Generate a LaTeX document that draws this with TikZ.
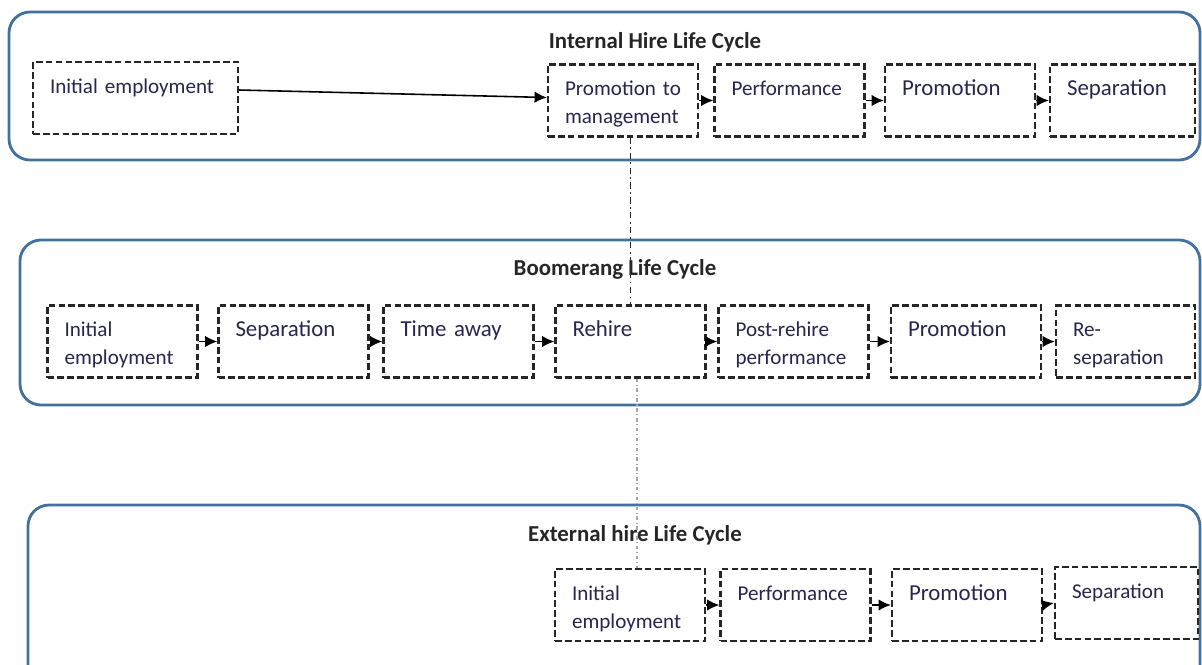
\documentclass[tikz,border=0pt]{standalone}
\usepackage{fontspec}
\setmainfont{Carlito}
\usetikzlibrary{arrows.meta,calc}
\definecolor{FrameClr}{RGB}{65,113,156}
\definecolor{TextClr}{RGB}{38,38,78}

\tikzset{
  frame/.style={line width=1.6pt,color=FrameClr,rounded corners=0.42cm},
  cycletitle/.style={font=\fontsize{13}{16}\selectfont\bfseries,text=black!85,inner sep=0pt},
  stage/.style={draw=black!85,line width=1.3pt,dash pattern=on 3.8pt off 1.8pt,
    minimum width=3cm,minimum height=1.44cm,inner xsep=0.34cm,inner ysep=0pt,
    text width=2.32cm,align=left,text height=0.62cm,text depth=0.82cm,
    font=\fontsize{12}{16}\selectfont,text=TextClr},
  big/.style={font=\fontsize{13}{16}\selectfont},
  flow/.style={line width=0.9pt,-{Latex[length=7pt,width=6.5pt]}},
  uplink/.style={line width=1pt,black!85,dash pattern=on 3.5pt off 2pt on 1pt off 2pt},
  downlink/.style={line width=0.8pt,black!35,dash pattern=on 2pt off 1.5pt on 0.6pt off 1.5pt}
}

\begin{document}
\begin{tikzpicture}[x=0.02cm,y=-0.02cm]
\clip (0,0) rectangle (1202,664);

% life cycle frames
\draw[frame] (9,12) rectangle (1200,160);
\draw[frame] (20,240) rectangle (1200,405);
\draw[frame] (28,505) rectangle (1200,720);

\node[cycletitle] (T1) at (655,42) {Internal Hire Life Cycle};
\node[cycletitle] (T2) at (615,269) {Boomerang Life Cycle};
\node[cycletitle] (T3) at (635,535) {External hire Life Cycle};

% internal hire
\node[stage,minimum width=4.1cm,text width=3.42cm] (I1) at (135.5,98) {Initial employment};
\node[stage] (I2) at (623,100.5) {Promotion to\\management};
\node[stage] (I3) at (789.5,100.5) {Performance};
\node[stage,big] (I4) at (960,100.5) {Promotion};
\node[stage,big,minimum width=2.9cm,text width=2.22cm] (I5) at (1122.5,100.5) {Separation};

% boomerang
\node[stage] (B1) at (122.5,341.5) {Initial\\employment};
\node[stage,big] (B2) at (293.5,341.5) {Separation};
\node[stage,big] (B3) at (458.5,341.5) {Time away};
\node[stage,big] (B4) at (630.5,341.5) {Rehire};
\node[stage] (B5) at (793.5,341.5) {Post-rehire\\performance};
\node[stage,big] (B6) at (966,341.5) {Promotion};
\node[stage,minimum width=2.78cm,text width=2.1cm] (B7) at (1125.5,341.5) {Re-\\separation};

% external hire
\node[stage] (E1) at (630,605) {Initial\\employment};
\node[stage] (E2) at (795.5,605) {Performance};
\node[stage,big] (E3) at (967,605) {Promotion};
\node[stage,minimum width=2.86cm,text width=2.18cm] (E4) at (1126.5,603) {Separation};

\draw[flow] ([yshift=0.16cm]I1.east) -- ([yshift=0.06cm]I2.west);
\draw[flow] (I2.east) -- (I3.west);
\draw[flow] (I3.east) -- (I4.west);
\draw[flow] (I4.east) -- (I5.west);

\draw[flow] (B1.east) -- (B2.west);
\draw[flow] (B2.east) -- (B3.west);
\draw[flow] (B3.east) -- (B4.west);
\draw[flow] (B4.east) -- (B5.west);
\draw[flow] (B5.east) -- (B6.west);
\draw[flow] (B6.east) -- (B7.west);

\draw[flow] (E1.east) -- (E2.west);
\draw[flow] (E2.east) -- (E3.west);
\draw[flow] (E3.east) -- (E4.west);

% links between cycles
\draw[uplink] (B4.north |- I2.south) -- (B4.north);
\coordinate (L2) at ([xshift=0.14cm]E1.north);
\draw[downlink] (L2 |- B4.south) -- (L2);

\end{tikzpicture}
\end{document}
